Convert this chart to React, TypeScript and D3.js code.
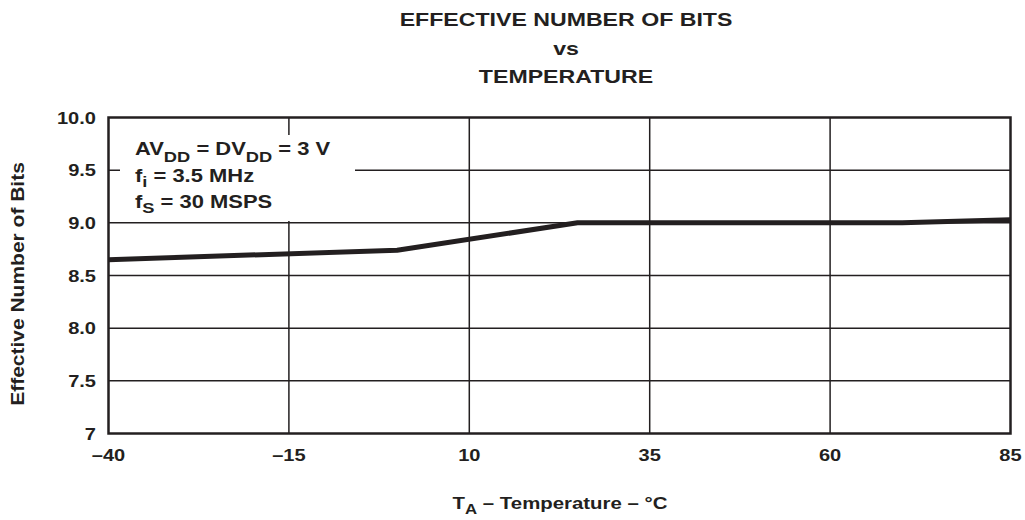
import React from "react";
import * as d3 from "d3";

const temps = [-40, 0, 25, 70, 85];
const enob = [8.65, 8.74, 9.0, 9.0, 9.03];
const xTicks = [-40, -15, 10, 35, 60, 85];
const yTicks = [7, 7.5, 8, 8.5, 9, 9.5, 10];
const yTickLabels = ["7", "7.5", "8.0", "8.5", "9.0", "9.5", "10.0"];
const titleLines = ["EFFECTIVE NUMBER OF BITS", "vs", "TEMPERATURE"];

const W = 1025, H = 520;
const L = 108.5, R = 1010.5, T = 117.5, B = 433.5;
const INK = "#231f20";
const FONT = "'Liberation Sans', Arial, Helvetica, sans-serif";

function Txt({ x, y, sx = 1.18, size = 17, anchor = "start", rotate = 0, children }: any) {
  return (
    <g transform={`translate(${x},${y}) rotate(${rotate}) scale(${sx},1)`}>
      <text textAnchor={anchor} fontFamily={FONT} fontWeight="bold" fontSize={size} fill={INK}>
        {children}
      </text>
    </g>
  );
}

export default function App() {
  const x = d3.scaleLinear().domain([-40, 85]).range([L, R]);
  const y = d3.scaleLinear().domain([7, 10]).range([B, T]);
  const line = d3
    .line<number>()
    .x((_, i) => x(temps[i]))
    .y((d) => y(d));

  return (
    <svg width={W} height={H} style={{ position: "absolute", left: 0, top: 0, background: "#fff" }}>
      {/* title */}
      {titleLines.map((t, i) => (
        <Txt key={t} x={566} y={26 + i * 28.5} size={18.5} sx={1.25} anchor="middle">
          {t}
        </Txt>
      ))}
      {/* grid */}
      {xTicks.slice(1, -1).map((v) => (
        <line key={"gx" + v} x1={x(v)} x2={x(v)} y1={T} y2={B} stroke={INK} strokeWidth={1.5} />
      ))}
      {yTicks.slice(1, -1).map((v) => (
        <line key={"gy" + v} x1={L} x2={R} y1={y(v)} y2={y(v)} stroke={INK} strokeWidth={1.5} />
      ))}
      {/* legend box */}
      <rect x={120} y={135} width={235} height={86} fill="#fff" />
      <g fontFamily={FONT} fontWeight="bold" fill={INK}>
        <g transform="translate(135,155) scale(1.22,1)">
          <text fontSize={18}>
            AV<tspan fontSize={15} dy={7}>DD</tspan>
            <tspan dy={-7}> = DV</tspan>
            <tspan fontSize={15} dy={7}>DD</tspan>
            <tspan dy={-7}> = 3 V</tspan>
          </text>
        </g>
        <g transform="translate(135,182) scale(1.22,1)">
          <text fontSize={18}>
            f<tspan fontSize={15} dy={5}>i</tspan>
            <tspan dy={-5}> = 3.5 MHz</tspan>
          </text>
        </g>
        <g transform="translate(135,208) scale(1.22,1)">
          <text fontSize={18}>
            f<tspan fontSize={15} dy={5}>S</tspan>
            <tspan dy={-5}> = 30 MSPS</tspan>
          </text>
        </g>
      </g>
      {/* data */}
      <path d={line(enob) || ""} fill="none" stroke={INK} strokeWidth={5} strokeLinejoin="round" />
      {/* frame */}
      <rect x={L} y={T} width={R - L} height={B - T} fill="none" stroke={INK} strokeWidth={2.5} />
      {/* y ticks */}
      {yTicks.map((v, i) => (
        <Txt key={"yt" + v} x={96} y={y(v) + 6} anchor="end">
          {yTickLabels[i]}
        </Txt>
      ))}
      {/* x ticks */}
      {xTicks.map((v) => (
        <Txt key={"xt" + v} x={x(v)} y={461} anchor="middle">
          {v < 0 ? "\u2013" + Math.abs(v) : String(v)}
        </Txt>
      ))}
      {/* x label */}
      <g transform="translate(560,509) scale(1.2,1)">
        <text textAnchor="middle" fontFamily={FONT} fontWeight="bold" fontSize={17} fill={INK}>
          T<tspan fontSize={14} dy={5}>A</tspan>
          <tspan dy={-5}> – Temperature – °C</tspan>
        </text>
      </g>
      {/* y label */}
      <Txt x={24} y={284} rotate={-90} anchor="middle" size={17.5} sx={1.2}>
        Effective Number of Bits
      </Txt>
    </svg>
  );
}
